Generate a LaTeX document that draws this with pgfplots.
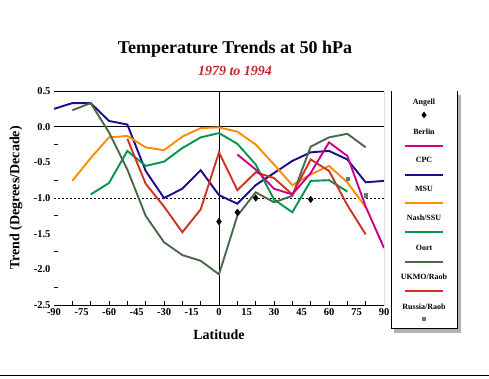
\documentclass[border=0pt]{standalone}
\usepackage{fontspec}
\setmainfont{Liberation Serif}
\usepackage{pgfplots}
\pgfplotsset{compat=1.18}
\definecolor{cpc}{HTML}{1E0A8C}
\definecolor{msu}{HTML}{FF8C00}
\definecolor{nash}{HTML}{00964B}
\definecolor{oort}{HTML}{4A684A}
\definecolor{ukmo}{HTML}{CC3322}
\definecolor{berlin}{HTML}{CC0088}
\definecolor{russia}{HTML}{5A7A8A}
\definecolor{subred}{HTML}{C0282A}
\begin{document}
\begin{tikzpicture}[x=1pt,y=1pt]
\useasboundingbox (0pt,0pt) rectangle (489pt,378pt);
\fill[white] (0pt,0pt) rectangle (489pt,378pt);
\node[font=\bfseries\fontsize{18}{20}\selectfont] at (235pt,329pt) {Temperature Trends at 50 hPa};
\node[font=\bfseries\itshape\fontsize{14}{16}\selectfont, text=subred] at (235pt,307pt) {1979 to 1994};
\begin{axis}[
  at={(54pt,73pt)}, anchor=south west, scale only axis,
  width=330pt, height=214pt,
  xmin=-90, xmax=90, ymin=-2.5, ymax=0.5,
  axis line style={draw=none},
  xtick={-90,-75,...,90},
  ytick={-2.5,-2,-1.5,-1,-0.5,0,0.5},
  minor xtick={-80,-70,-60,-50,-40,-30,-20,-10,0,10,20,30,40,50,60,70,80},
  minor ytick={-2.25,-1.75,-1.25,-0.75,-0.25,0.25},
  major tick length=0pt, minor tick length=4pt,
  tick align=inside, xtick pos=lower, ytick pos=left,
  minor tick style={black, line width=0.8pt},
  ticklabel style={font=\bfseries\fontsize{10.5}{12}\selectfont},
  /pgf/number format/assume math mode=true,
  yticklabel style={/pgf/number format/.cd, fixed, fixed zerofill, precision=1},
  xlabel={Latitude},
  ylabel={Trend (Degrees/Decade)},
  label style={font=\bfseries\fontsize{14}{16}\selectfont},
  xlabel style={at={(axis description cs:0.5,-0.14)}, anchor=center},
  ylabel style={at={(axis description cs:-0.115,0.5)}, anchor=center},
]
\draw[black, line width=0.8pt] (rel axis cs:0,1) -- (rel axis cs:1,1) -- (rel axis cs:1,0) -- (rel axis cs:0,0);
\draw[black, line width=0.8pt] (axis cs:-90,0) -- (axis cs:90,0);
\draw[black, line width=0.8pt] (axis cs:0,-2.5) -- (axis cs:0,0.5);
\draw[black, line width=0.8pt, dash pattern=on 2pt off 2pt] (axis cs:-90,-1) -- (axis cs:90,-1);
\addplot[cpc, line width=1.9pt] coordinates {(-90,0.25)(-80,0.33)(-70,0.33)(-60,0.08)(-50,0.03)(-40,-0.62)(-30,-1.0)(-20,-0.87)(-10,-0.61)(0,-0.96)(10,-1.08)(20,-0.82)(30,-0.65)(40,-0.48)(50,-0.36)(60,-0.34)(70,-0.46)(80,-0.78)(90,-0.76)};
\addplot[msu, line width=1.9pt] coordinates {(-80,-0.76)(-70,-0.44)(-60,-0.15)(-50,-0.13)(-40,-0.29)(-30,-0.33)(-20,-0.14)(-10,-0.02)(0,-0.01)(10,-0.07)(20,-0.25)(30,-0.53)(40,-0.82)(50,-0.67)(60,-0.55)(70,-0.78)(80,-1.13)};
\addplot[nash, line width=1.9pt] coordinates {(-70,-0.95)(-60,-0.79)(-50,-0.34)(-40,-0.55)(-30,-0.49)(-20,-0.3)(-10,-0.15)(0,-0.09)(10,-0.24)(20,-0.53)(30,-1.02)(40,-1.2)(50,-0.76)(60,-0.75)(70,-0.91)};
\addplot[oort, line width=1.9pt] coordinates {(-80,0.23)(-70,0.33)(-60,-0.08)(-50,-0.6)(-40,-1.25)(-30,-1.62)(-20,-1.8)(-10,-1.88)(0,-2.07)(10,-1.25)(20,-0.92)(30,-1.06)(40,-0.97)(50,-0.28)(60,-0.15)(70,-0.1)(80,-0.29)};
\addplot[ukmo, line width=1.9pt] coordinates {(-50,-0.17)(-40,-0.8)(-30,-1.12)(-20,-1.48)(-10,-1.16)(0,-0.36)(10,-0.89)(20,-0.64)(30,-0.72)(40,-0.95)(50,-0.46)(60,-0.62)(70,-1.1)(80,-1.51)};
\addplot[berlin, line width=1.9pt] coordinates {(10,-0.39)(20,-0.6)(30,-0.87)(40,-0.95)(50,-0.65)(60,-0.22)(70,-0.41)(80,-1.12)(90,-1.7)};
\addplot[only marks, mark=diamond*, mark size=3.3pt, black] coordinates {(0,-1.33)(10,-1.2)(20,-1.0)(50,-1.02)};
\addplot[only marks, mark=square*, mark size=1.6pt, russia] coordinates {(70,-0.73)(80,-0.96)};
\end{axis}
% legend box
\fill[gray!60] (457pt,283pt) rectangle (461pt,45pt);
\fill[gray!60] (394pt,50pt) rectangle (461pt,45pt);
\draw[black, line width=0.8pt] (391pt,287pt) -- (391pt,50pt) -- (457pt,50pt) -- (457pt,287pt);
\begin{axis}[
  at={(391pt,50pt)}, anchor=south west, scale only axis,
  width=66pt, height=237pt,
  xmin=391, xmax=457, ymin=-328, ymax=-91,
  hide axis, clip=false,
]
\node[font=\bfseries\fontsize{8}{10}\selectfont] at (axis cs:424,-103) {Angell};
\addplot[only marks, mark=diamond*, mark size=3pt, black] coordinates {(424,-115)};
\node[font=\bfseries\fontsize{8}{10}\selectfont] at (axis cs:424,-132) {Berlin};
\addplot[berlin, line width=1.9pt] coordinates {(405,-146)(443,-146)};
\node[font=\bfseries\fontsize{8}{10}\selectfont] at (axis cs:424,-160) {CPC};
\addplot[cpc, line width=1.9pt] coordinates {(405,-175)(443,-175)};
\node[font=\bfseries\fontsize{8}{10}\selectfont] at (axis cs:424,-189) {MSU};
\addplot[msu, line width=1.9pt] coordinates {(405,-203)(443,-203)};
\node[font=\bfseries\fontsize{8}{10}\selectfont] at (axis cs:424,-218) {Nash/SSU};
\addplot[nash, line width=1.9pt] coordinates {(405,-232)(443,-232)};
\node[font=\bfseries\fontsize{8}{10}\selectfont] at (axis cs:424,-248) {Oort};
\addplot[oort, line width=1.9pt] coordinates {(405,-262)(443,-262)};
\node[font=\bfseries\fontsize{8}{10}\selectfont] at (axis cs:424,-277) {UKMO/Raob};
\addplot[ukmo, line width=1.9pt] coordinates {(405,-291)(443,-291)};
\node[font=\bfseries\fontsize{8}{10}\selectfont] at (axis cs:424,-307) {Russia/Raob};
\addplot[only marks, mark=square*, mark size=1.6pt, russia] coordinates {(424,-319)};
\end{axis}
\draw[black, line width=0.8pt] (0pt,3pt) -- (489pt,3pt);
\end{tikzpicture}
\end{document}
